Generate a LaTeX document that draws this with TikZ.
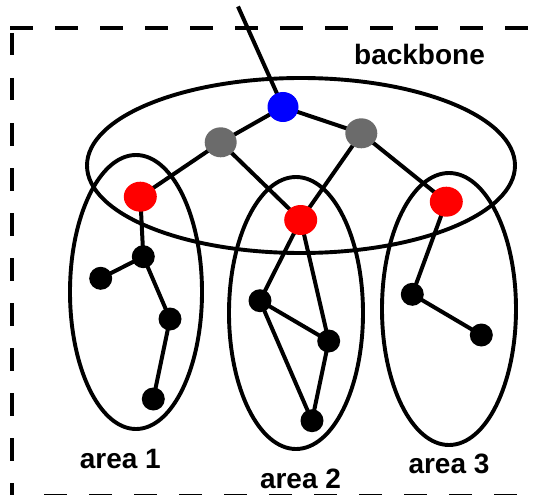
\documentclass[tikz,border=0pt]{standalone}
\usepackage{fontspec}
\setmainfont{Liberation Sans}
\usetikzlibrary{shapes.geometric,backgrounds}
\begin{document}
\begin{tikzpicture}[x=1pt,y=-1pt,
  dot/.style={ellipse,inner sep=0pt,draw=none},
  bdot/.style={dot,fill=black,minimum width=23pt,minimum height=23pt},
  rdot/.style={dot,fill=red,minimum width=33pt,minimum height=30pt},
  gdot/.style={dot,fill=black!58,minimum width=32pt,minimum height=30pt},
  bludot/.style={dot,fill=blue,minimum width=31pt,minimum height=30pt},
  link/.style={line width=4pt},
  ring/.style={line width=3.9pt},
  frame/.style={line width=4pt,dash pattern=on 22.5pt off 22.5pt},
  lab/.style={font=\bfseries\fontsize{28}{30}\selectfont,anchor=base,inner sep=0pt}]
\path[use as bounding box] (0,0) rectangle (536,495);
\begin{scope}
  \clip (0,0) rectangle (536,495);
  \draw[frame] (10,28) -- (570,28);
  \draw[frame] (12,33) -- (12,510);
  \draw[frame] (44,495.5) -- (570,495.5);
\end{scope}
% nodes
\coordinate (top) at (238,6.5);
\node[bludot] (b) at (283,107) {};
\node[gdot] (gL) at (220.7,142.3) {};
\node[gdot] (gR) at (361.3,133.3) {};
\node[rdot] (rL) at (140.3,196.7) {};
\node[rdot] (rM) at (300.7,220) {};
\node[rdot] (rR) at (446.3,201.7) {};
\node[bdot] (k1) at (143.3,256.7) {};
\node[bdot] (k2) at (100.7,278.3) {};
\node[bdot] (k3) at (170,319) {};
\node[bdot] (k4) at (153.3,399) {};
\node[bdot] (m1) at (260,300.7) {};
\node[bdot] (m2) at (328.7,341) {};
\node[bdot] (m3) at (312,420.7) {};
\node[bdot] (n1) at (412.3,294.3) {};
\node[bdot] (n2) at (481.3,335) {};
\begin{scope}[on background layer]
  \draw[ring] (301,165.5) ellipse [x radius=214pt,y radius=87.5pt];
  \draw[ring] (136,292) ellipse [x radius=66pt,y radius=137pt];
  \draw[ring] (296,313) ellipse [x radius=67pt,y radius=136pt];
  \draw[ring] (449,309) ellipse [x radius=67pt,y radius=136pt];
  \draw[link] (top) -- (b.center);
  \draw[link] (b.center) -- (gL.center);
  \draw[link] (b.center) -- (gR.center);
  \draw[link] (gL.center) -- (rL.center);
  \draw[link] (gL.center) -- (rM.center);
  \draw[link] (gR.center) -- (rM.center);
  \draw[link] (gR.center) -- (rR.center);
  \draw[link] (rL.center) -- (k1.center);
  \draw[link] (k1.center) -- (k2.center);
  \draw[link] (k1.center) -- (k3.center);
  \draw[link] (k3.center) -- (k4.center);
  \draw[link] (rM.center) -- (m1.center);
  \draw[link] (rM.center) -- (m2.center);
  \draw[link] (m1.center) -- (m2.center);
  \draw[link] (m1.center) -- (m3.center);
  \draw[link] (m2.center) -- (m3.center);
  \draw[link] (rR.center) -- (n1.center);
  \draw[link] (n1.center) -- (n2.center);
\end{scope}
% labels
\node[lab] (lbb) at (419.5,65) {backbone};
\node[lab] (la1) at (120.3,468.3) {area 1};
\node[lab] (la2) at (300.5,488.3) {area 2};
\node[lab] (la3) at (449,473.3) {area 3};
\end{tikzpicture}
\end{document}
